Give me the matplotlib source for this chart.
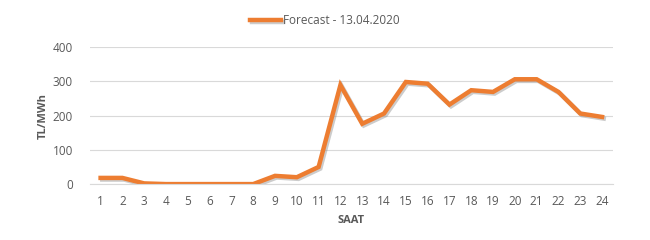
import matplotlib.pyplot as plt
import matplotlib.patheffects as pe

# Saatlik tahmin
hours = list(range(1, 25))
forecast = [18, 18, 2, 0, 0, 0, 0, 0, 24, 20, 50, 289,
            176, 206, 298, 293, 232, 274, 269, 306, 306, 269, 206, 196]
series_label = "Forecast - 13.04.2020"

plt.rcParams['font.family'] = ['Open Sans', 'DejaVu Sans']

fig = plt.figure(figsize=(6.5, 2.4), dpi=100)
ax = fig.add_axes([0.138, 0.233, 0.805, 0.571])

ax.plot(hours, forecast, color='#ED7D31', linewidth=3.2, solid_joinstyle='miter',
        label=series_label,
        path_effects=[pe.SimpleLineShadow(offset=(1.2, -1.2), shadow_color='#808080', alpha=0.4),
                      pe.Normal()])

ax.set_xlim(0.5, 24.5)
ax.set_ylim(0, 400)
ax.set_xticks(hours)
ax.set_yticks([0, 100, 200, 300, 400])
ax.grid(axis='y', color='#D9D9D9', linewidth=0.8)
ax.set_axisbelow(True)
for s in ['top', 'right', 'left']:
    ax.spines[s].set_visible(False)
ax.spines['bottom'].set_color('#D9D9D9')
ax.tick_params(length=0, labelsize=8.5, colors='#595959', pad=8)
ax.tick_params(axis='y', pad=12)

ax.set_xlabel("SAAT", fontsize=8, fontweight='bold', color='#595959', labelpad=5)
ax.set_ylabel("TL/MWh", fontsize=8, fontweight='bold', color='#595959', labelpad=3)

fig.legend(loc='upper center', bbox_to_anchor=(0.5, 0.985), frameon=False,
           fontsize=8.5, labelcolor='#595959', handlelength=2.6, handletextpad=0.2)

fig.savefig("out.png", dpi=100)
